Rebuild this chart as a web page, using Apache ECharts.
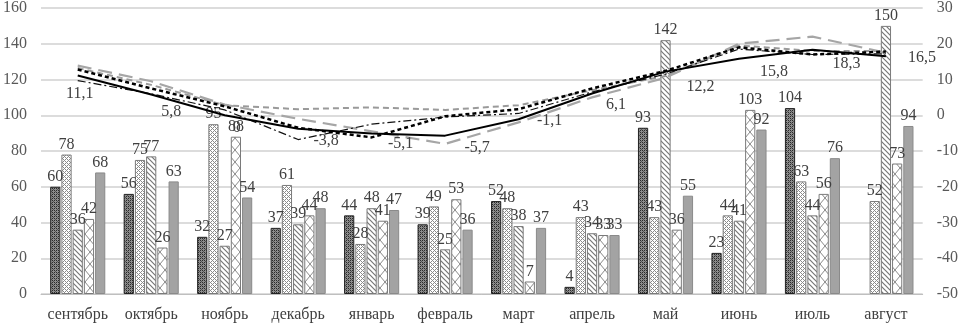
<!DOCTYPE html>
<html>
<head>
<meta charset="utf-8">
<script src="https://cdn.jsdelivr.net/npm/echarts@6/dist/echarts.min.js"></script>
<style>
  html, body { margin: 0; padding: 0; background: #fff; }
  #chart { width: 961px; height: 324px; }
</style>
</head>
<body>
<div id="chart"></div>
<script>
var months = ['сентябрь', 'октябрь', 'ноябрь', 'декабрь', 'январь', 'февраль', 'март', 'апрель', 'май', 'июнь', 'июль', 'август'];

// bars (left axis)
var bars1 = [60, 56, 32, 37, 44, 39, 52, 4, 93, 23, 104, null];
var bars2 = [78, 75, 95, 61, 28, 49, 48, 43, 43, 44, 63, 52];
var bars3 = [36, 77, 27, 39, 48, 25, 38, 34, 142, 41, 44, 150];
var bars4 = [42, 26, 88, 44, 41, 53, 7, 33, 36, 103, 56, 73];
var bars5 = [68, 63, 54, 48, 47, 36, 37, 33, 55, 92, 76, 94];

// lines (right axis)
var lineMain = [11.1, 5.8, 0, -3.8, -5.1, -5.7, -1.1, 6.1, 12.2, 15.8, 18.3, 16.5];
var lineShortDash = [12.8, 7.5, 2.5, -3.5, -6.2, -0.3, 1.7, 7.5, 12.4, 19, 17, 17.8];
var lineDashDot = [9.7, 6, 1.5, -6.8, -2.5, -0.5, 0.5, 6.5, 11.5, 18.5, 17, 17.2];
var lineLongDash = [13.9, 9.5, 3, -1, -4.5, -8, -2, 5, 10.5, 20, 22, 17.5];
var lineGrayDash = [13.2, 8.5, 2.8, 1.7, 2.2, 1.5, 2.8, 7, 11, 19.5, 18, 18];

// label placement for the main line (dx, dy from the point)
var mainLabelOffsets = [[2, 18], [20, 17], [12, 13], [28, 12], [29, 10], [32, 12], [31, 2], [24, 11], [35, 15], [35, 13], [34, 14], [36, 2]];

var FONT = 'Liberation Serif';

function makePattern(w, h, draw) {
    var cv = document.createElement('canvas');
    cv.width = w;
    cv.height = h;
    var ctx = cv.getContext('2d');
    draw(ctx, w, h);
    return { image: cv, repeat: 'repeat' };
}

var pat1 = makePattern(4, 4, function (ctx) {
    ctx.fillStyle = '#8c8c8c';
    ctx.fillRect(0, 0, 4, 4);
    ctx.fillStyle = '#2a2a2a';
    ctx.fillRect(0, 0, 1, 1); ctx.fillRect(2, 2, 1, 1);
    ctx.fillRect(2, 0, 1, 1); ctx.fillRect(0, 2, 1, 1);
    ctx.fillStyle = '#555';
    ctx.fillRect(1, 1, 1, 1); ctx.fillRect(3, 3, 1, 1);
});
var pat2 = makePattern(4, 4, function (ctx) {
    ctx.fillStyle = '#fff';
    ctx.fillRect(0, 0, 4, 4);
    ctx.fillStyle = '#8a8a8a';
    ctx.fillRect(0, 0, 1, 1); ctx.fillRect(2, 2, 1, 1);
    ctx.fillRect(1, 1, 1, 1); ctx.fillRect(3, 3, 1, 1);
    ctx.fillRect(3, 1, 1, 1); ctx.fillRect(1, 3, 1, 1);
});
var pat3 = makePattern(5, 5, function (ctx) {
    ctx.fillStyle = '#fff';
    ctx.fillRect(0, 0, 5, 5);
    ctx.strokeStyle = '#777';
    ctx.lineWidth = 1.2;
    ctx.beginPath();
    ctx.moveTo(-1, -1); ctx.lineTo(6, 6);
    ctx.moveTo(-1, 4); ctx.lineTo(1, 6);
    ctx.moveTo(4, -1); ctx.lineTo(6, 1);
    ctx.stroke();
});
var pat4 = makePattern(10, 12, function (ctx) {
    ctx.fillStyle = '#fff';
    ctx.fillRect(0, 0, 10, 12);
    ctx.strokeStyle = '#8a8a8a';
    ctx.lineWidth = 1;
    ctx.beginPath();
    ctx.moveTo(0, 0); ctx.lineTo(10, 12);
    ctx.moveTo(10, 0); ctx.lineTo(0, 12);
    ctx.stroke();
});

function barSeries(name, data, fill, border) {
    return {
        type: 'bar',
        name: name,
        data: data,
        yAxisIndex: 0,
        barGap: '10%',
        barCategoryGap: '25%',
        itemStyle: { color: fill, borderColor: border, borderWidth: 1 },
        label: {
            show: true,
            position: 'top',
            distance: 2,
            color: '#404040',
            fontFamily: FONT,
            fontSize: 16
        },
        z: 2
    };
}

function lineSeries(name, data, color, width, dash) {
    return {
        type: 'line',
        name: name,
        data: data,
        yAxisIndex: 1,
        showSymbol: false,
        symbol: 'none',
        lineStyle: { color: color, width: width, type: dash },
        z: 5
    };
}

var chart = echarts.init(document.getElementById('chart'));
chart.setOption({
    animation: false,
    grid: { left: 37, right: 38, top: 6, bottom: 30 },
    xAxis: {
        type: 'category',
        data: months,
        axisLine: { lineStyle: { color: '#bfbfbf', width: 1 } },
        axisTick: { show: false },
        axisLabel: { interval: 0, color: '#404040', fontFamily: FONT, fontSize: 16, margin: 13 }
    },
    yAxis: [
        {
            type: 'value',
            min: 0,
            max: 160,
            interval: 20,
            axisLine: { show: false },
            axisTick: { show: false },
            splitLine: { lineStyle: { color: '#dcdcdc', width: 2 } },
            axisLabel: { color: '#595959', fontFamily: FONT, fontSize: 16, margin: 14 }
        },
        {
            type: 'value',
            min: -50,
            max: 30,
            interval: 10,
            axisLine: { show: false },
            axisTick: { show: false },
            splitLine: { show: false },
            axisLabel: { color: '#595959', fontFamily: FONT, fontSize: 16, margin: 14 }
        }
    ],
    series: [
        barSeries('s1', bars1, pat1, '#222'),
        barSeries('s2', bars2, pat2, '#7a7a7a'),
        barSeries('s3', bars3, pat3, '#7a7a7a'),
        barSeries('s4', bars4, pat4, '#7a7a7a'),
        barSeries('s5', bars5, '#a3a3a3', '#8a8a8a'),
        lineSeries('gray dash', lineGrayDash, '#9a9a9a', 2, [6, 4]),
        lineSeries('long dash', lineLongDash, '#a6a6a6', 2.2, [14, 7]),
        lineSeries('dash dot', lineDashDot, '#111', 1.2, [8, 3, 2, 3]),
        lineSeries('short dash', lineShortDash, '#000', 2.5, [4, 3]),
        {
            type: 'line',
            name: 'main',
            data: lineMain,
            yAxisIndex: 1,
            symbol: 'circle',
            symbolSize: 1,
            itemStyle: { color: 'rgba(0,0,0,0)', borderWidth: 0 },
            lineStyle: { color: '#000', width: 2 },
            label: {
                show: true,
                position: 'inside',
                color: '#404040',
                fontFamily: FONT,
                fontSize: 16,
                formatter: function (p) {
                    return String(p.value).replace('.', ',');
                }
            },
            labelLayout: function (params) {
                var o = mainLabelOffsets[params.dataIndex];
                return { dx: o[0], dy: o[1], hideOverlap: false };
            },
            z: 6
        }
    ]
});
</script>
</body>
</html>
